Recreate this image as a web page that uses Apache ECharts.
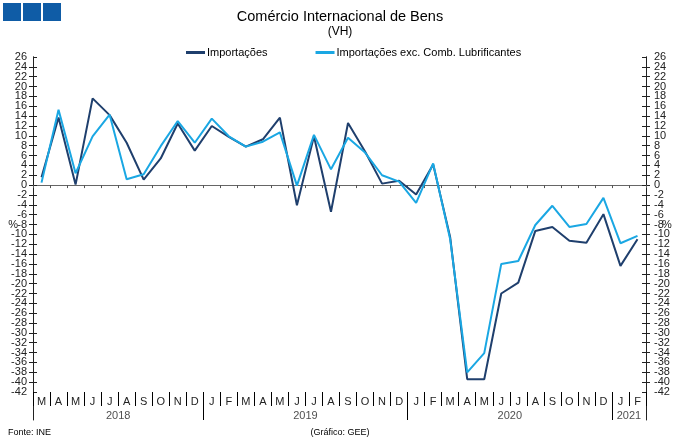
<!DOCTYPE html>
<html>
<head>
<meta charset="utf-8">
<script src="https://cdn.jsdelivr.net/npm/echarts@6/dist/echarts.min.js"></script>
<style>
html,body{margin:0;padding:0;background:#fff;}
#chart{width:680px;height:443px;}
</style>
</head>
<body>
<div id="chart"></div>
<script>
// ---- Data ----
const months = ['M','A','M','J','J','A','S','O','N','D',
  'J','F','M','A','M','J','J','A','S','O','N','D',
  'J','F','M','A','M','J','J','A','S','O','N','D',
  'J','F'];
const years = ['2018','2019','2020','2021'];
const yearMonthCounts = [10, 12, 12, 2];
const importacoes = [1.6, 13.7, 0.1, 17.6, 14.2, 8.6, 1.1, 5.4, 12.5, 7.0,
  12.0, 9.8, 7.8, 9.3, 13.7, -4.1, 9.9, -5.4, 12.6, 6.8, 0.3, 0.9,
  -1.9, 4.2, -10.6, -39.4, -39.4, -22.0, -19.8, -9.3, -8.5, -11.3, -11.7, -5.9,
  -16.4, -11.0];
const importacoesExc = [0.5, 15.3, 2.4, 9.9, 14.3, 1.2, 2.2, 7.9, 13.0, 8.6,
  13.5, 9.9, 7.8, 8.8, 10.7, -0.1, 10.2, 3.2, 9.6, 6.6, 2.0, 0.7,
  -3.6, 4.4, -11.0, -38.0, -34.1, -16.0, -15.4, -8.1, -4.2, -8.5, -7.9, -2.6,
  -11.8, -10.3];
const yMin = -42, yMax = 26, yStep = 2;

// year label positions / boundaries derived from month counts
const yearLabels = [];
const yearBounds = [];
let acc = 0;
years.forEach((y, i) => {
  yearLabels.push({ name: y, value: [acc + yearMonthCounts[i] / 2, 0.15] });
  acc += yearMonthCounts[i];
  if (i < years.length - 1) yearBounds.push(acc);
});

const FONT = "'Liberation Sans', Arial, sans-serif";
const DARK = '#1F3F6D';
const LIGHT = '#1AA7E3';
const AX = '#222';

const chart = echarts.init(document.getElementById('chart'), null, { renderer: 'canvas' });

const yBase = {
  type: 'value', min: yMin, max: yMax, interval: yStep, gridIndex: 0,
  splitLine: { show: false },
  axisLine: { show: true, lineStyle: { color: AX, width: 1 } }
};
const lblBase = { show: true, fontSize: 11, color: '#222', fontFamily: FONT, hideOverlap: false };
const endsOnly = v => (v === yMin || v === yMax) ? String(v) : '';

const option = {
  animation: false,
  textStyle: { fontFamily: FONT },
  title: [
    { text: 'Comércio Internacional de Bens', left: 'center', top: 9, padding: 0,
      textStyle: { fontFamily: FONT, fontSize: 14.5, fontWeight: 'normal', color: '#000' } },
    { text: '(VH)', left: 'center', top: 26, padding: 0,
      textStyle: { fontFamily: FONT, fontSize: 12, fontWeight: 'normal', color: '#000' } },
    { text: 'Fonte: INE', left: 8, top: 428, padding: 0,
      textStyle: { fontFamily: FONT, fontSize: 9, fontWeight: 'normal', color: '#000' } },
    { text: '(Gráfico: GEE)', left: 'center', top: 428, padding: 0,
      textStyle: { fontFamily: FONT, fontSize: 9, fontWeight: 'normal', color: '#000' } }
  ],
  graphic: [
    { type: 'rect', left: 3, top: 3, shape: { width: 18, height: 18 }, style: { fill: '#0F5CA6' } },
    { type: 'rect', left: 23, top: 3, shape: { width: 18, height: 18 }, style: { fill: '#0F5CA6' } },
    { type: 'rect', left: 43, top: 3, shape: { width: 18, height: 18 }, style: { fill: '#0F5CA6' } }
  ],
  legend: {
    left: 186, top: 47, padding: 0, itemGap: 48, itemWidth: 19, itemHeight: 3, icon: 'rect',
    textStyle: { fontFamily: FONT, fontSize: 11, color: '#000', padding: [0, 0, 0, -3] },
    data: ['Importações', 'Importações exc. Comb. Lubrificantes']
  },
  grid: [
    { left: 33, right: 34, top: 57, bottom: 51 },
    { left: 33, right: 34, top: 392, bottom: 23 }
  ],
  xAxis: [
    { type: 'category', gridIndex: 0, data: months, boundaryGap: true,
      axisLine: { onZero: true, onZeroAxisIndex: 0, lineStyle: { color: '#666', width: 1 } },
      axisTick: { show: true, length: 3, lineStyle: { color: '#555' } },
      axisLabel: { show: false }, splitLine: { show: false } },
    { type: 'category', gridIndex: 1, data: months, boundaryGap: true, position: 'top',
      axisLine: { show: false, onZero: false },
      axisTick: { show: true, inside: true, length: 14, lineStyle: { color: '#000' } },
      axisLabel: { show: true, inside: true, margin: 4, interval: 0, fontSize: 11, color: '#222', fontFamily: FONT },
      splitLine: { show: false } },
    { type: 'value', gridIndex: 1, min: 0, max: months.length, show: false,
      axisLine: { show: false, onZero: false }, axisTick: { show: false },
      axisLabel: { show: false }, splitLine: { show: false } }
  ],
  yAxis: [
    Object.assign({}, yBase, {
      position: 'left',
      axisTick: { show: true, length: 4, lineStyle: { color: AX } },
      axisLabel: Object.assign({}, lblBase, { margin: 6, showMinLabel: false, showMaxLabel: false }),
      name: '%', nameLocation: 'middle', nameRotate: 0, nameGap: 15, nameMoveOverlap: false,
      nameTextStyle: { fontFamily: FONT, fontSize: 11, color: '#222' } }),
    Object.assign({}, yBase, {
      position: 'left',
      axisTick: { show: true, inside: true, length: 4, lineStyle: { color: AX } },
      axisLabel: Object.assign({}, lblBase, { margin: 6, formatter: endsOnly, showMinLabel: true, showMaxLabel: true }) }),
    Object.assign({}, yBase, {
      position: 'right',
      axisTick: { show: true, length: 4, lineStyle: { color: AX } },
      axisLabel: Object.assign({}, lblBase, { margin: 8, showMinLabel: false, showMaxLabel: false }),
      name: '%', nameLocation: 'middle', nameRotate: 0, nameGap: 16, nameMoveOverlap: false,
      nameTextStyle: { fontFamily: FONT, fontSize: 11, color: '#222' } }),
    Object.assign({}, yBase, {
      position: 'right',
      axisTick: { show: true, inside: true, length: 4, lineStyle: { color: AX } },
      axisLabel: Object.assign({}, lblBase, { margin: 8, formatter: endsOnly, showMinLabel: true, showMaxLabel: true }) }),
    { type: 'value', gridIndex: 1, min: 0, max: 1, position: 'left',
      axisLine: { show: true, onZero: false, lineStyle: { color: AX } }, axisTick: { show: false },
      axisLabel: { show: false }, splitLine: { show: false } },
    { type: 'value', gridIndex: 1, min: 0, max: 1, position: 'right',
      axisLine: { show: true, onZero: false, lineStyle: { color: AX } }, axisTick: { show: false },
      axisLabel: { show: false }, splitLine: { show: false } }
  ],
  series: [
    { name: 'Importações', type: 'line', xAxisIndex: 0, yAxisIndex: 0,
      data: importacoes, symbol: 'none', color: DARK,
      lineStyle: { color: DARK, width: 2 } },
    { name: 'Importações exc. Comb. Lubrificantes', type: 'line', xAxisIndex: 0, yAxisIndex: 0,
      data: importacoesExc, symbol: 'none', color: LIGHT,
      lineStyle: { color: LIGHT, width: 2 } },
    { name: 'years', type: 'scatter', xAxisIndex: 2, yAxisIndex: 4,
      data: yearLabels, symbolSize: 0, silent: true,
      label: { show: true, position: 'inside', formatter: p => p.name,
        fontFamily: FONT, fontSize: 11, color: '#222' },
      markLine: { silent: true, symbol: 'none', label: { show: false },
        lineStyle: { color: '#000', width: 1, type: 'solid' },
        data: yearBounds.map(b => ({ xAxis: b })) } }
  ]
};
chart.setOption(option);
</script>
</body>
</html>
